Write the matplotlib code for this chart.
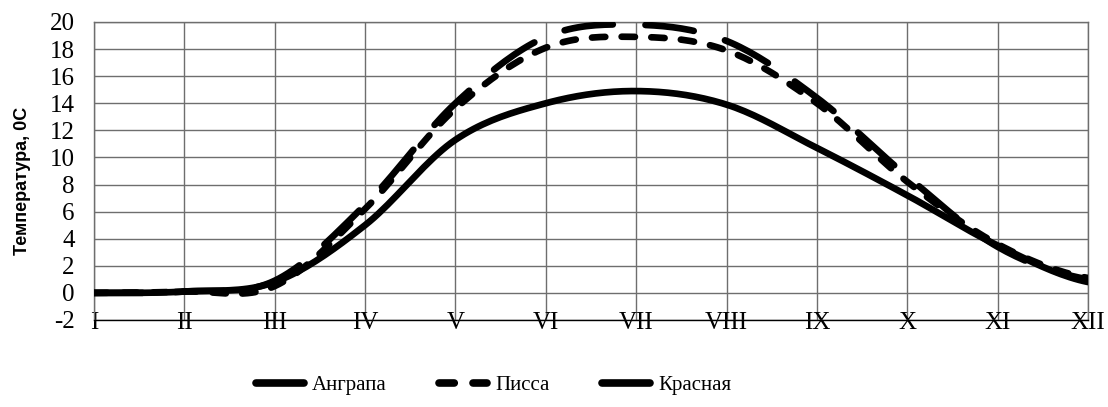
import numpy as np
import matplotlib
matplotlib.use("Agg")
import matplotlib.pyplot as plt

# monthly values
months = ["I", "II", "III", "IV", "V", "VI", "VII", "VIII", "IX", "X", "XI", "XII"]
angrapa = [0.0, 0.1, 0.9, 6.5, 14.0, 18.9, 19.8, 18.6, 14.4, 8.6, 3.4, 1.0]
pissa = [0.0, 0.1, 0.5, 6.2, 13.6, 18.1, 18.9, 17.9, 14.0, 8.2, 3.6, 1.1]
krasnaya = [0.0, 0.1, 0.8, 5.0, 11.3, 14.0, 14.9, 13.9, 10.7, 7.2, 3.5, 0.8]
labels = ["Анграпа", "Писса", "Красная"]


def smooth(y, n=20):
    # Catmull-Rom curve through the points, like a "smoothed line" chart
    y = np.asarray(y, float)
    p = np.concatenate([[y[0]], y, [y[-1]]])
    xs, ys = [], []
    for i in range(len(y) - 1):
        p0, p1, p2, p3 = p[i], p[i + 1], p[i + 2], p[i + 3]
        t = np.linspace(0, 1, n, endpoint=False)
        yy = 0.5 * (2 * p1 + (-p0 + p2) * t + (2 * p0 - 5 * p1 + 4 * p2 - p3) * t ** 2
                    + (-p0 + 3 * p1 - 3 * p2 + p3) * t ** 3)
        xs.append(i + t)
        ys.append(yy)
    xs.append([len(y) - 1])
    ys.append([y[-1]])
    return np.concatenate(xs), np.concatenate(ys)


fig = plt.figure(figsize=(11.08, 4.07), dpi=100)
ax = fig.add_axes([0.0848, 0.2138, 0.8972, 0.7322])

serif = "Liberation Serif"
styles = [dict(ls=(0, (7.3, 4.9))), dict(ls=(0, (2.0, 2.45))), dict(ls="-")]
for vals, lab, st in zip([angrapa, pissa, krasnaya], labels, styles):
    xs, ys = smooth(vals)
    ax.plot(xs, ys, color="black", lw=4.8, solid_capstyle="round",
            dash_capstyle="round", label=lab, zorder=3, **st)

ax.set_xlim(0, len(months) - 1)
ax.set_ylim(-2, 20)
ax.set_xticks(np.arange(len(months)))
ax.set_xticklabels(months, family=serif, fontsize=18)
ax.set_yticks(np.arange(-2, 21, 2))
ax.set_yticklabels([str(v) for v in range(-2, 21, 2)], family=serif, fontsize=18)
ax.tick_params(length=0)
ax.tick_params(axis="y", pad=14)
ax.tick_params(axis="x", pad=-6)
ax.grid(True, color="#6e6e6e", lw=1)
ax.set_axisbelow(True)
for s in ax.spines.values():
    s.set_color("#6e6e6e")
    s.set_linewidth(1)
ax.spines["bottom"].set_color("black")

ax.set_ylabel("Температура, 0С", family="Liberation Sans", fontweight="bold",
              fontsize=13)
ax.yaxis.set_label_coords(-0.063, 0.466)

leg = fig.legend(loc="center left", bbox_to_anchor=(256 / 1108, 22 / 407), ncol=3,
                 frameon=False, prop={"family": serif, "size": 15}, handlelength=2.3,
                 columnspacing=2.5, handletextpad=0.4, borderpad=0, borderaxespad=0)
for h in leg.get_lines():
    h.set_linewidth(5.5)

fig.savefig("out.png", dpi=100)
